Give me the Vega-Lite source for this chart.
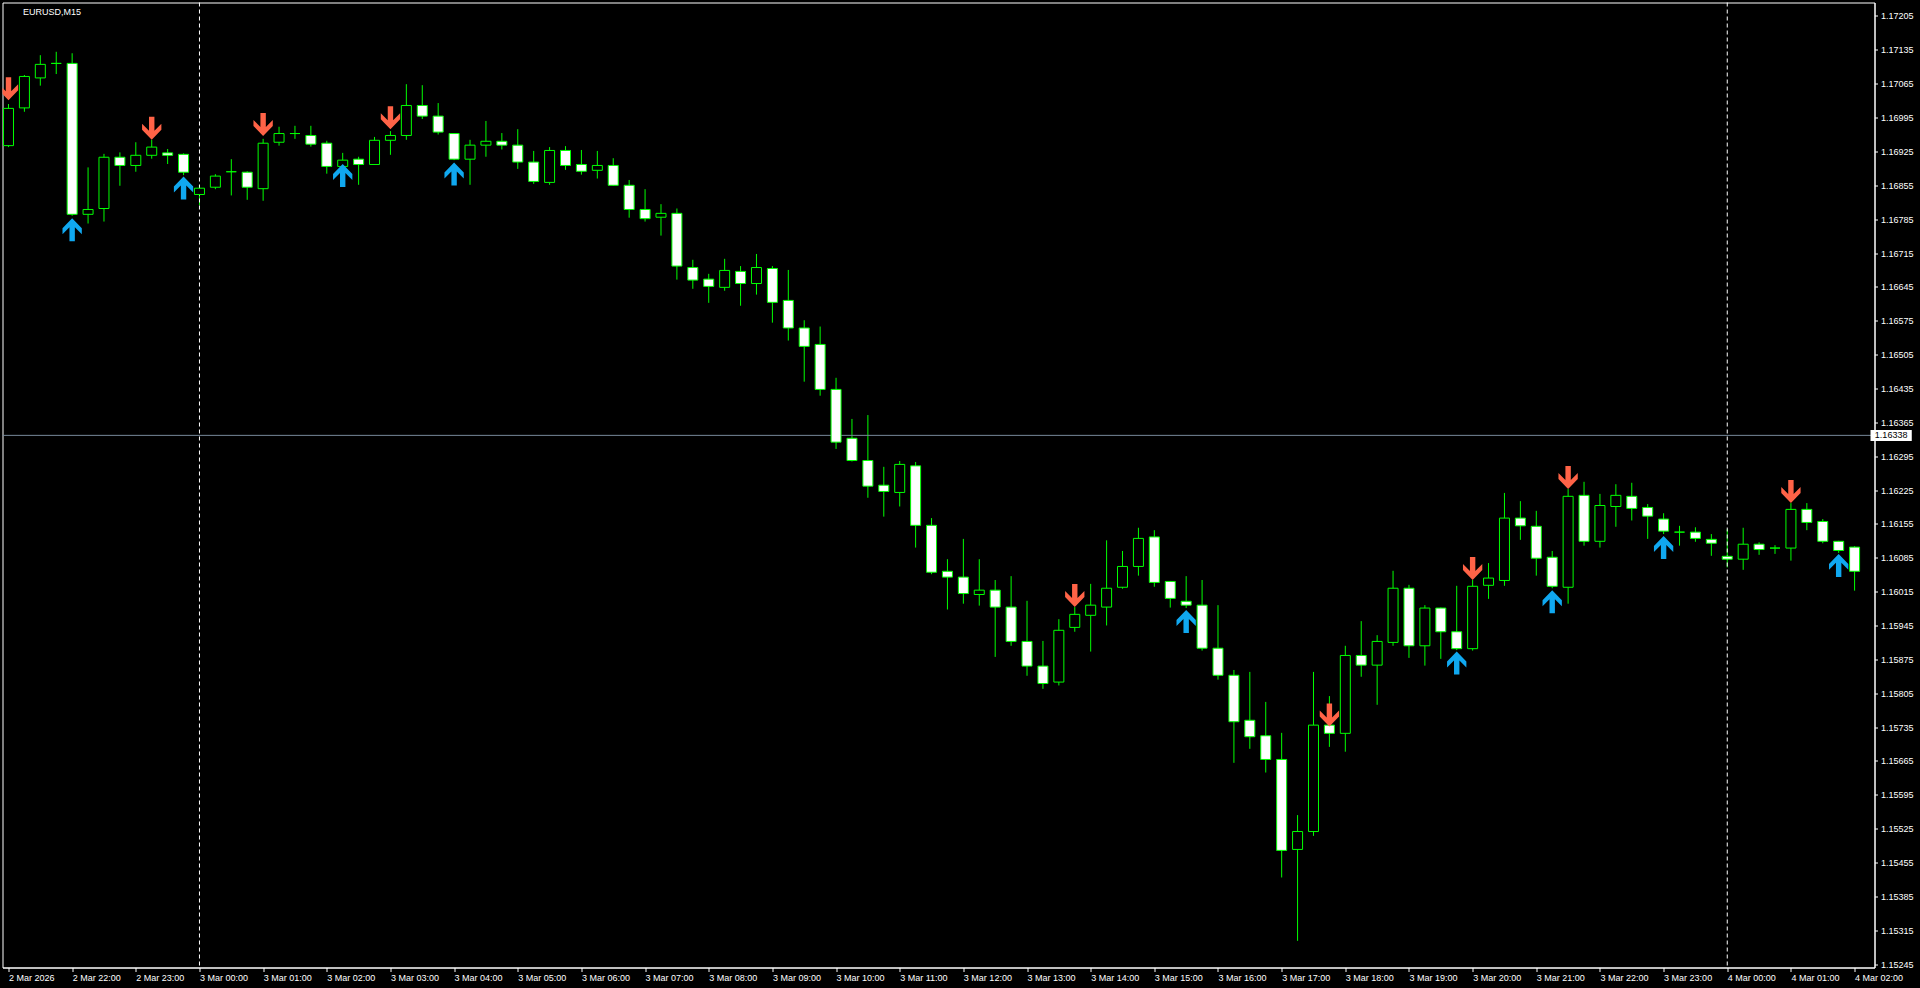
{
"$schema":"https://vega.github.io/schema/vega-lite/v6.json",
"width":1872,"height":965,
"autosize":{"type":"none"},
"padding":{"left":2.5,"top":2.5,"right":45.5,"bottom":20.5},
"background":"#000000",
"config":{"view":{"stroke":"#FFFFFF","strokeWidth":1,"fill":"#000000"},
"axis":{"domainColor":"#FFFFFF","tickColor":"#FFFFFF","labelColor":"#FFFFFF","labelFont":"Liberation Sans","labelFontSize":9,"grid":false,"domainWidth":1,"tickWidth":1,"labelOverlap":false}},
"datasets":{
"seps":[{"t":"2026-03-03T00:00:00Z"},{"t":"2026-03-04T00:00:00Z"}],
"candles":[
{"t":"2026-03-02T21:00:00Z","o":1.16937,"h":1.17023,"l":1.16934,"c":1.17014,"dn":1.17031},
{"t":"2026-03-02T21:15:00Z","o":1.17015,"h":1.17083,"l":1.17007,"c":1.17080},
{"t":"2026-03-02T21:30:00Z","o":1.17077,"h":1.17124,"l":1.17061,"c":1.17105},
{"t":"2026-03-02T21:45:00Z","o":1.17107,"h":1.17131,"l":1.17085,"c":1.17107},
{"t":"2026-03-02T22:00:00Z","o":1.17107,"h":1.17128,"l":1.16792,"c":1.16795,"up":1.16787},
{"t":"2026-03-02T22:15:00Z","o":1.16795,"h":1.16892,"l":1.16776,"c":1.16805},
{"t":"2026-03-02T22:30:00Z","o":1.16807,"h":1.16920,"l":1.16780,"c":1.16913},
{"t":"2026-03-02T22:45:00Z","o":1.16913,"h":1.16923,"l":1.16854,"c":1.16896},
{"t":"2026-03-02T23:00:00Z","o":1.16896,"h":1.16944,"l":1.16883,"c":1.16917},
{"t":"2026-03-02T23:15:00Z","o":1.16917,"h":1.16949,"l":1.16910,"c":1.16934,"dn":1.16949},
{"t":"2026-03-02T23:30:00Z","o":1.16922,"h":1.16930,"l":1.16899,"c":1.16917},
{"t":"2026-03-02T23:45:00Z","o":1.16919,"h":1.16921,"l":1.16876,"c":1.16882,"up":1.16873},
{"t":"2026-03-03T00:00:00Z","o":1.16836,"h":1.16856,"l":1.16814,"c":1.16849},
{"t":"2026-03-03T00:15:00Z","o":1.16851,"h":1.16878,"l":1.16847,"c":1.16874},
{"t":"2026-03-03T00:30:00Z","o":1.16883,"h":1.16909,"l":1.16834,"c":1.16883},
{"t":"2026-03-03T00:45:00Z","o":1.16882,"h":1.16884,"l":1.16825,"c":1.16851},
{"t":"2026-03-03T01:00:00Z","o":1.16848,"h":1.16951,"l":1.16823,"c":1.16942,"dn":1.16957},
{"t":"2026-03-03T01:15:00Z","o":1.16944,"h":1.16976,"l":1.16937,"c":1.16962},
{"t":"2026-03-03T01:30:00Z","o":1.16962,"h":1.16978,"l":1.16951,"c":1.16962},
{"t":"2026-03-03T01:45:00Z","o":1.16958,"h":1.16978,"l":1.16935,"c":1.16940},
{"t":"2026-03-03T02:00:00Z","o":1.16942,"h":1.16947,"l":1.16879,"c":1.16894},
{"t":"2026-03-03T02:15:00Z","o":1.16894,"h":1.16922,"l":1.16891,"c":1.16907,"up":1.16899},
{"t":"2026-03-03T02:30:00Z","o":1.16909,"h":1.16914,"l":1.16856,"c":1.16898},
{"t":"2026-03-03T02:45:00Z","o":1.16898,"h":1.16955,"l":1.16898,"c":1.16948},
{"t":"2026-03-03T03:00:00Z","o":1.16948,"h":1.16967,"l":1.16918,"c":1.16958,"dn":1.16971},
{"t":"2026-03-03T03:15:00Z","o":1.16958,"h":1.17064,"l":1.16949,"c":1.17020},
{"t":"2026-03-03T03:30:00Z","o":1.17020,"h":1.17062,"l":1.16992,"c":1.16998},
{"t":"2026-03-03T03:45:00Z","o":1.16998,"h":1.17025,"l":1.16960,"c":1.16965},
{"t":"2026-03-03T04:00:00Z","o":1.16962,"h":1.16963,"l":1.16907,"c":1.16909,"up":1.16902},
{"t":"2026-03-03T04:15:00Z","o":1.16909,"h":1.16949,"l":1.16856,"c":1.16938},
{"t":"2026-03-03T04:30:00Z","o":1.16938,"h":1.16988,"l":1.16914,"c":1.16946},
{"t":"2026-03-03T04:45:00Z","o":1.16946,"h":1.16963,"l":1.16929,"c":1.16938},
{"t":"2026-03-03T05:00:00Z","o":1.16938,"h":1.16971,"l":1.16889,"c":1.16903},
{"t":"2026-03-03T05:15:00Z","o":1.16903,"h":1.16926,"l":1.16858,"c":1.16863},
{"t":"2026-03-03T05:30:00Z","o":1.16861,"h":1.16934,"l":1.16856,"c":1.16927},
{"t":"2026-03-03T05:45:00Z","o":1.16927,"h":1.16936,"l":1.16887,"c":1.16896},
{"t":"2026-03-03T06:00:00Z","o":1.16898,"h":1.16928,"l":1.16877,"c":1.16884},
{"t":"2026-03-03T06:15:00Z","o":1.16886,"h":1.16926,"l":1.16869,"c":1.16896},
{"t":"2026-03-03T06:30:00Z","o":1.16896,"h":1.16911,"l":1.16854,"c":1.16855},
{"t":"2026-03-03T06:45:00Z","o":1.16855,"h":1.16866,"l":1.16788,"c":1.16805},
{"t":"2026-03-03T07:00:00Z","o":1.16805,"h":1.16847,"l":1.16780,"c":1.16786},
{"t":"2026-03-03T07:15:00Z","o":1.16789,"h":1.16816,"l":1.16751,"c":1.16797},
{"t":"2026-03-03T07:30:00Z","o":1.16797,"h":1.16807,"l":1.16660,"c":1.16688},
{"t":"2026-03-03T07:45:00Z","o":1.16685,"h":1.16701,"l":1.16641,"c":1.16659},
{"t":"2026-03-03T08:00:00Z","o":1.16661,"h":1.16672,"l":1.16612,"c":1.16646},
{"t":"2026-03-03T08:15:00Z","o":1.16644,"h":1.16703,"l":1.16637,"c":1.16679},
{"t":"2026-03-03T08:30:00Z","o":1.16677,"h":1.16688,"l":1.16606,"c":1.16652},
{"t":"2026-03-03T08:45:00Z","o":1.16652,"h":1.16713,"l":1.16629,"c":1.16685},
{"t":"2026-03-03T09:00:00Z","o":1.16683,"h":1.16688,"l":1.16571,"c":1.16613},
{"t":"2026-03-03T09:15:00Z","o":1.16617,"h":1.16680,"l":1.16534,"c":1.16560},
{"t":"2026-03-03T09:30:00Z","o":1.16560,"h":1.16576,"l":1.16449,"c":1.16522},
{"t":"2026-03-03T09:45:00Z","o":1.16526,"h":1.16563,"l":1.16420,"c":1.16433},
{"t":"2026-03-03T10:00:00Z","o":1.16433,"h":1.16457,"l":1.16310,"c":1.16324},
{"t":"2026-03-03T10:15:00Z","o":1.16332,"h":1.16372,"l":1.16284,"c":1.16286},
{"t":"2026-03-03T10:30:00Z","o":1.16286,"h":1.16380,"l":1.16209,"c":1.16233},
{"t":"2026-03-03T10:45:00Z","o":1.16235,"h":1.16273,"l":1.16170,"c":1.16222},
{"t":"2026-03-03T11:00:00Z","o":1.16220,"h":1.16285,"l":1.16191,"c":1.16278},
{"t":"2026-03-03T11:15:00Z","o":1.16275,"h":1.16283,"l":1.16106,"c":1.16152},
{"t":"2026-03-03T11:30:00Z","o":1.16152,"h":1.16167,"l":1.16051,"c":1.16055},
{"t":"2026-03-03T11:45:00Z","o":1.16057,"h":1.16082,"l":1.15978,"c":1.16045},
{"t":"2026-03-03T12:00:00Z","o":1.16045,"h":1.16124,"l":1.15990,"c":1.16011},
{"t":"2026-03-03T12:15:00Z","o":1.16009,"h":1.16082,"l":1.15986,"c":1.16018},
{"t":"2026-03-03T12:30:00Z","o":1.16018,"h":1.16039,"l":1.15880,"c":1.15983},
{"t":"2026-03-03T12:45:00Z","o":1.15983,"h":1.16047,"l":1.15903,"c":1.15912},
{"t":"2026-03-03T13:00:00Z","o":1.15912,"h":1.15996,"l":1.15841,"c":1.15861},
{"t":"2026-03-03T13:15:00Z","o":1.15861,"h":1.15913,"l":1.15814,"c":1.15825},
{"t":"2026-03-03T13:30:00Z","o":1.15828,"h":1.15958,"l":1.15821,"c":1.15935},
{"t":"2026-03-03T13:45:00Z","o":1.15941,"h":1.15983,"l":1.15932,"c":1.15968,"dn":1.15983},
{"t":"2026-03-03T14:00:00Z","o":1.15966,"h":1.16031,"l":1.15891,"c":1.15987},
{"t":"2026-03-03T14:15:00Z","o":1.15983,"h":1.16121,"l":1.15945,"c":1.16022},
{"t":"2026-03-03T14:30:00Z","o":1.16024,"h":1.16099,"l":1.16021,"c":1.16067},
{"t":"2026-03-03T14:45:00Z","o":1.16067,"h":1.16147,"l":1.16048,"c":1.16125},
{"t":"2026-03-03T15:00:00Z","o":1.16128,"h":1.16142,"l":1.16025,"c":1.16034},
{"t":"2026-03-03T15:15:00Z","o":1.16036,"h":1.16037,"l":1.15982,"c":1.16001},
{"t":"2026-03-03T15:30:00Z","o":1.15995,"h":1.16047,"l":1.15981,"c":1.15987,"up":1.15977},
{"t":"2026-03-03T15:45:00Z","o":1.15987,"h":1.16039,"l":1.15893,"c":1.15898},
{"t":"2026-03-03T16:00:00Z","o":1.15898,"h":1.15987,"l":1.15833,"c":1.15842},
{"t":"2026-03-03T16:15:00Z","o":1.15842,"h":1.15853,"l":1.15661,"c":1.15746},
{"t":"2026-03-03T16:30:00Z","o":1.15749,"h":1.15849,"l":1.15690,"c":1.15715},
{"t":"2026-03-03T16:45:00Z","o":1.15717,"h":1.15787,"l":1.15641,"c":1.15668},
{"t":"2026-03-03T17:00:00Z","o":1.15668,"h":1.15723,"l":1.15424,"c":1.15480},
{"t":"2026-03-03T17:15:00Z","o":1.15482,"h":1.15553,"l":1.15293,"c":1.15519},
{"t":"2026-03-03T17:30:00Z","o":1.15519,"h":1.15849,"l":1.15510,"c":1.15739},
{"t":"2026-03-03T17:45:00Z","o":1.15739,"h":1.15799,"l":1.15694,"c":1.15722,"dn":1.15736},
{"t":"2026-03-03T18:00:00Z","o":1.15722,"h":1.15903,"l":1.15684,"c":1.15883},
{"t":"2026-03-03T18:15:00Z","o":1.15883,"h":1.15954,"l":1.15839,"c":1.15863},
{"t":"2026-03-03T18:30:00Z","o":1.15863,"h":1.15925,"l":1.15781,"c":1.15912},
{"t":"2026-03-03T18:45:00Z","o":1.15910,"h":1.16058,"l":1.15903,"c":1.16022},
{"t":"2026-03-03T19:00:00Z","o":1.16022,"h":1.16029,"l":1.15878,"c":1.15903},
{"t":"2026-03-03T19:15:00Z","o":1.15903,"h":1.15987,"l":1.15862,"c":1.15981},
{"t":"2026-03-03T19:30:00Z","o":1.15981,"h":1.15982,"l":1.15876,"c":1.15932},
{"t":"2026-03-03T19:45:00Z","o":1.15932,"h":1.16027,"l":1.15894,"c":1.15897,"up":1.15891},
{"t":"2026-03-03T20:00:00Z","o":1.15897,"h":1.16039,"l":1.15893,"c":1.16026,"dn":1.16039},
{"t":"2026-03-03T20:15:00Z","o":1.16028,"h":1.16074,"l":1.16000,"c":1.16043},
{"t":"2026-03-03T20:30:00Z","o":1.16038,"h":1.16219,"l":1.16027,"c":1.16167},
{"t":"2026-03-03T20:45:00Z","o":1.16167,"h":1.16202,"l":1.16122,"c":1.16151},
{"t":"2026-03-03T21:00:00Z","o":1.16150,"h":1.16182,"l":1.16048,"c":1.16084},
{"t":"2026-03-03T21:15:00Z","o":1.16086,"h":1.16099,"l":1.16022,"c":1.16026,"up":1.16018},
{"t":"2026-03-03T21:30:00Z","o":1.16024,"h":1.16227,"l":1.15990,"c":1.16212,"dn":1.16227},
{"t":"2026-03-03T21:45:00Z","o":1.16214,"h":1.16242,"l":1.16110,"c":1.16119},
{"t":"2026-03-03T22:00:00Z","o":1.16119,"h":1.16217,"l":1.16106,"c":1.16193},
{"t":"2026-03-03T22:15:00Z","o":1.16191,"h":1.16237,"l":1.16149,"c":1.16214},
{"t":"2026-03-03T22:30:00Z","o":1.16212,"h":1.16240,"l":1.16162,"c":1.16187},
{"t":"2026-03-03T22:45:00Z","o":1.16189,"h":1.16196,"l":1.16124,"c":1.16171},
{"t":"2026-03-03T23:00:00Z","o":1.16165,"h":1.16177,"l":1.16134,"c":1.16140,"up":1.16130},
{"t":"2026-03-03T23:15:00Z","o":1.16138,"h":1.16151,"l":1.16110,"c":1.16138},
{"t":"2026-03-03T23:30:00Z","o":1.16138,"h":1.16148,"l":1.16118,"c":1.16125},
{"t":"2026-03-03T23:45:00Z","o":1.16123,"h":1.16134,"l":1.16089,"c":1.16115},
{"t":"2026-03-04T00:00:00Z","o":1.16088,"h":1.16144,"l":1.16065,"c":1.16082},
{"t":"2026-03-04T00:15:00Z","o":1.16082,"h":1.16147,"l":1.16060,"c":1.16113},
{"t":"2026-03-04T00:30:00Z","o":1.16113,"h":1.16117,"l":1.16091,"c":1.16102},
{"t":"2026-03-04T00:45:00Z","o":1.16105,"h":1.16111,"l":1.16093,"c":1.16105},
{"t":"2026-03-04T01:00:00Z","o":1.16105,"h":1.16198,"l":1.16079,"c":1.16185,"dn":1.16198},
{"t":"2026-03-04T01:15:00Z","o":1.16185,"h":1.16198,"l":1.16142,"c":1.16158},
{"t":"2026-03-04T01:30:00Z","o":1.16160,"h":1.16165,"l":1.16115,"c":1.16119},
{"t":"2026-03-04T01:45:00Z","o":1.16119,"h":1.16120,"l":1.16095,"c":1.16100,"up":1.16093},
{"t":"2026-03-04T02:00:00Z","o":1.16107,"h":1.16109,"l":1.16017,"c":1.16057}
]},
"layer":[
{"data":{"name":"candles"},
 "mark":{"type":"rule","color":"#00FF00","strokeWidth":1},
 "encoding":{
  "x":{"field":"t","type":"temporal","title":null,"scale":{"type":"utc","domain":[1772485143750,1772590443750]},
   "axis":{"orient":"bottom","tickCount":60,"values":[1772485200000,1772488800000,1772492400000,1772496000000,1772499600000,1772503200000,1772506800000,1772510400000,1772514000000,1772517600000,1772521200000,1772524800000,1772528400000,1772532000000,1772535600000,1772539200000,1772542800000,1772546400000,1772550000000,1772553600000,1772557200000,1772560800000,1772564400000,1772568000000,1772571600000,1772575200000,1772578800000,1772582400000,1772586000000,1772589600000],"labelExpr":"datum.value < 1772488000000 ? '2 Mar 2026' : utcFormat(datum.value, '%-d %b %H:%M')","labelAlign":"left","labelAngle":0,"labelBaseline":"top","labelPadding":2,"tickSize":4,"labelFlush":false,"labelOverlap":false,"labelBound":false}},
  "y":{"field":"l","type":"quantitative","title":null,"scale":{"domain":[1.152379,1.172329],"nice":false,"zero":false},
   "axis":{"orient":"right","tickCount":60,"values":[1.15245,1.15315,1.15385,1.15455,1.15525,1.15595,1.15665,1.15735,1.15805,1.15875,1.15945,1.16015,1.16085,1.16155,1.16225,1.16295,1.16365,1.16435,1.16505,1.16575,1.16645,1.16715,1.16785,1.16855,1.16925,1.16995,1.17065,1.17135,1.17205],"format":".5f","tickSize":3,"labelPadding":3,"labelBaseline":"middle","labelAlign":"left","labelOverlap":false,"labelFlush":false,"labelBound":false}},
  "y2":{"field":"h"}}},
{"data":{"name":"seps"},
 "mark":{"type":"rule","color":"#FFFFFF","strokeWidth":1,"strokeDash":[4,3]},
 "encoding":{"x":{"field":"t","type":"temporal","title":null}}},
{"data":{"values":[{"p":1.16338}]},
 "mark":{"type":"rule","color":"#778899","strokeWidth":1},
 "encoding":{"y":{"field":"p","type":"quantitative","title":null}}},
{"data":{"name":"candles"},
 "mark":{"type":"bar","width":10,"stroke":"#00FF00","strokeWidth":1},
 "encoding":{
  "x":{"field":"t","type":"temporal","title":null},
  "y":{"field":"o","type":"quantitative","title":null},
  "y2":{"field":"c"},
  "fill":{"condition":{"test":"datum.c < datum.o","value":"#FFFFFF"},"value":"#000000"}}},
{"data":{"name":"candles"},
 "transform":[{"filter":"isValid(datum.dn)"}],
 "mark":{"type":"point","shape":"M -0.235 -2 L 0.235 -2 L 0.235 -0.78 L 0.84 -1.39 L 0.84 -0.87 L 0 0 L -0.84 -0.87 L -0.84 -1.39 L -0.235 -0.78 Z","size":529,"filled":true,"color":"#FF6347","opacity":1,"strokeWidth":0,"clip":true},
 "encoding":{
  "x":{"field":"t","type":"temporal","title":null},
  "y":{"field":"dn","type":"quantitative","title":null}}},
{"data":{"name":"candles"},
 "transform":[{"filter":"isValid(datum.up)"}],
 "mark":{"type":"point","shape":"M -0.235 2 L 0.235 2 L 0.235 0.78 L 0.84 1.39 L 0.84 0.87 L 0 0 L -0.84 0.87 L -0.84 1.39 L -0.235 0.78 Z","size":529,"filled":true,"color":"#10A8F0","opacity":1,"strokeWidth":0,"clip":true},
 "encoding":{
  "x":{"field":"t","type":"temporal","title":null},
  "y":{"field":"up","type":"quantitative","title":null}}},
{"data":{"values":[{"p":1.16338,"lbl":"1.16338"}]},
 "mark":{"type":"rect","color":"#FFFFFF"},
 "encoding":{
  "x":{"datum":1772590500000,"type":"temporal","title":null},
  "x2":{"datum":1772592834000},
  "y":{"datum":1.163491,"type":"quantitative","title":null},
  "y2":{"datum":1.163264}}},
{"data":{"values":[{"p":1.16338,"lbl":"1.16338"}]},
 "mark":{"type":"text","color":"#000000","font":"Liberation Sans","fontSize":9,"align":"center","baseline":"middle"},
 "encoding":{
  "x":{"datum":1772591667000,"type":"temporal","title":null},
  "y":{"field":"p","type":"quantitative","title":null},
  "text":{"field":"lbl"}}},
{"data":{"values":[{"lbl":"EURUSD,M15"}]},
 "mark":{"type":"text","color":"#FFFFFF","font":"Liberation Sans","fontSize":9,"align":"left","baseline":"alphabetic"},
 "encoding":{
  "x":{"datum":1772486015625,"type":"temporal","title":null},
  "y":{"datum":1.172071,"type":"quantitative","title":null},
  "text":{"field":"lbl"}}}
]
}
